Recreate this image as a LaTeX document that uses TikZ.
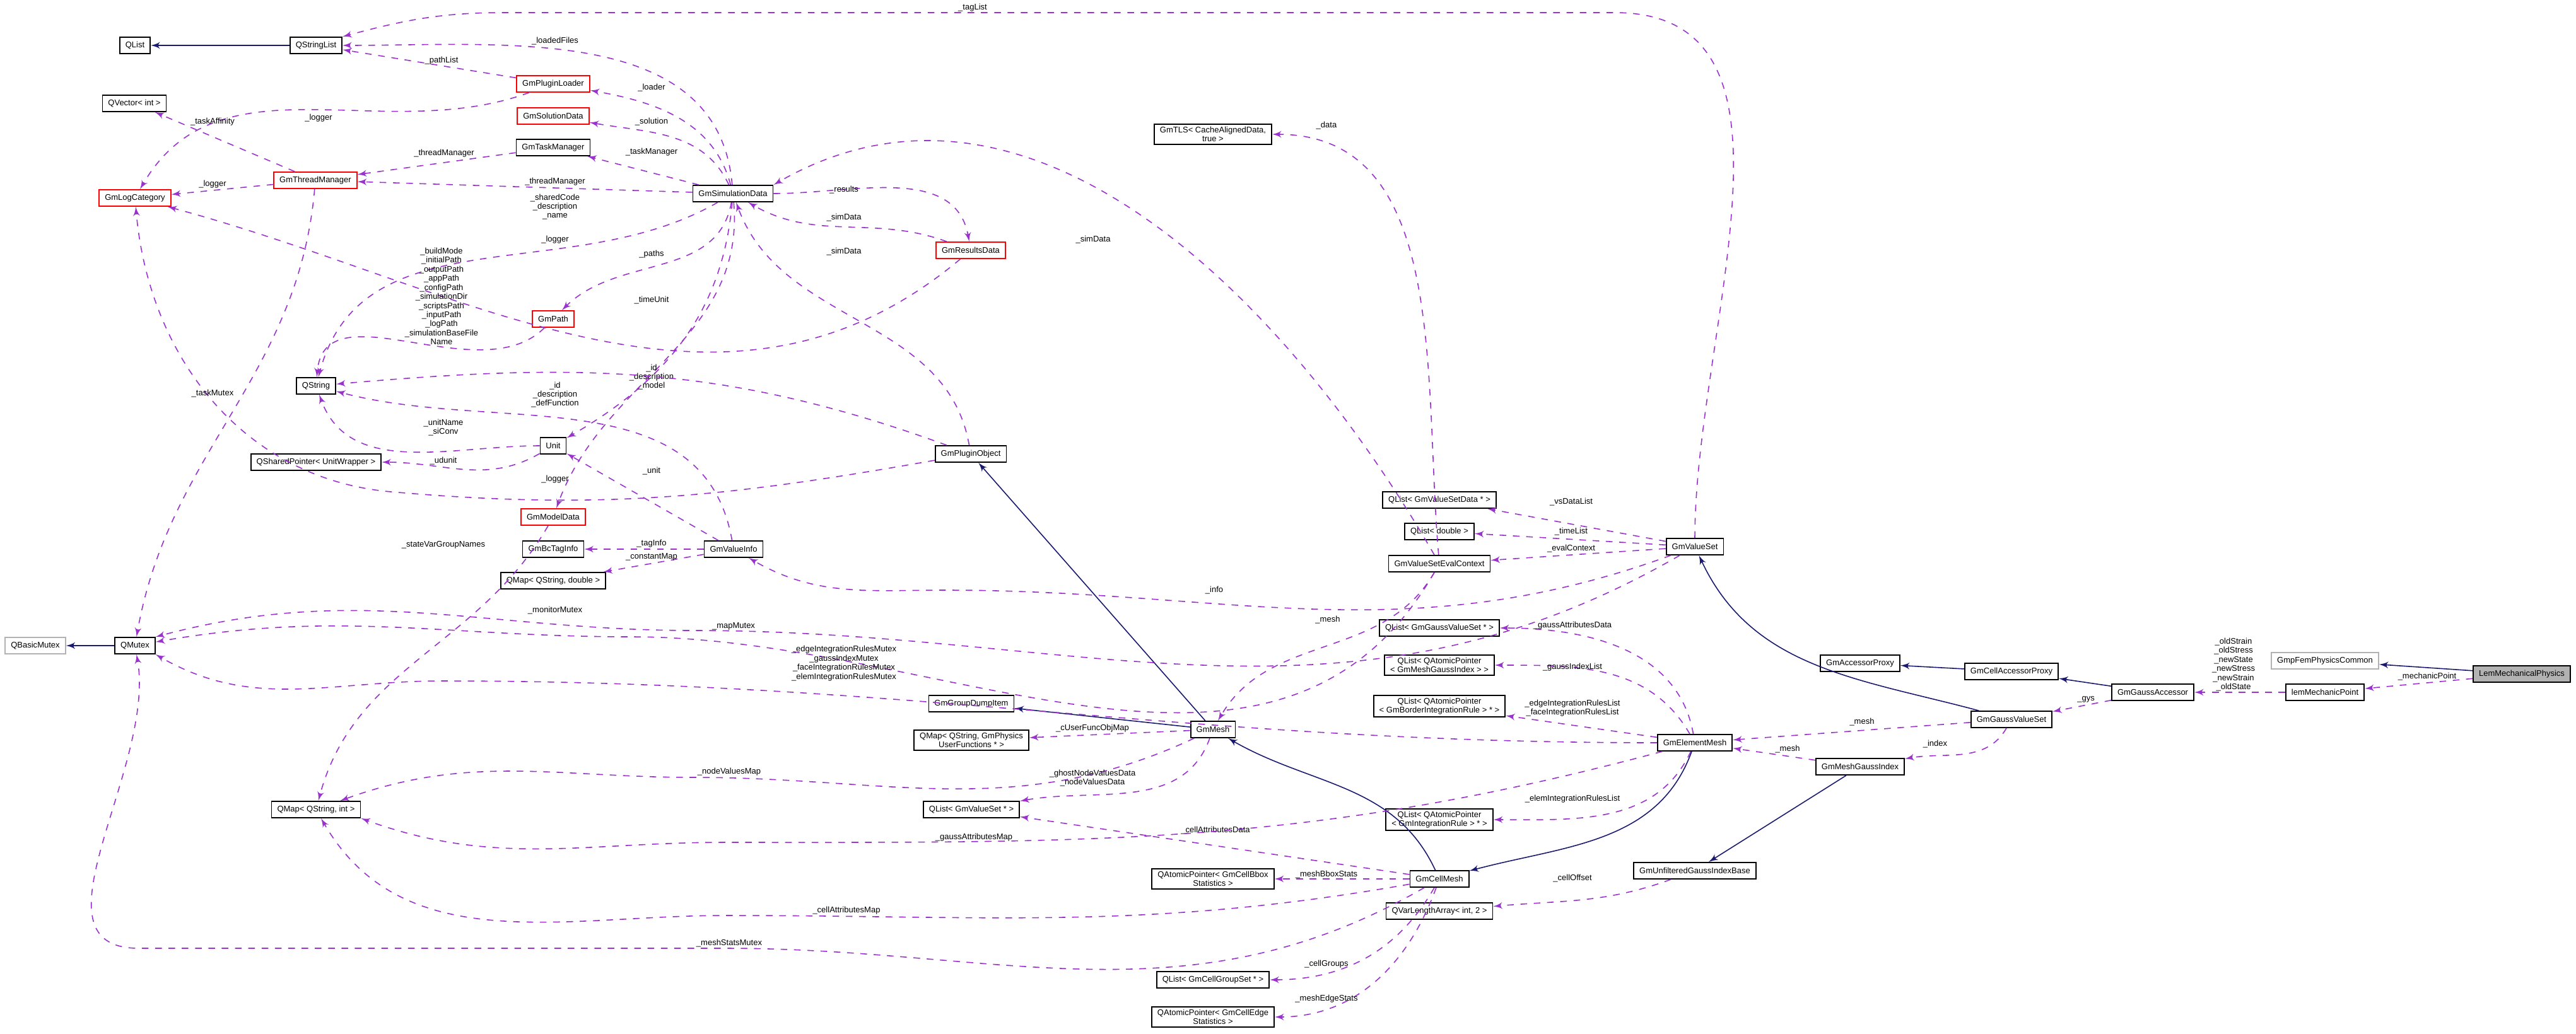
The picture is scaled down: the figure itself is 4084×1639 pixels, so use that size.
\documentclass[tikz,border=0pt]{standalone}
\usepackage{fontspec}
\setmainfont{Liberation Sans}
\usepackage{tikz}
\usetikzlibrary{arrows}
\definecolor{usecol}{HTML}{9A32CD}
\definecolor{inhcol}{HTML}{191970}
\tikzset{>=latex', font=\fontsize{3.7}{4.1}\selectfont}
\tikzstyle{cls} = [draw=black, line width=0.5pt, fill=white, rectangle, minimum height=2.6mm, inner xsep=0.9mm, inner ysep=0.4mm, align=center]
\tikzstyle{redcls} = [cls, draw=red]
\tikzstyle{graycls} = [cls, draw=black!30]
\tikzstyle{maincls} = [cls, fill=black!30]
\tikzstyle{use} = [->, usecol, dashed, line width=0.45pt]
\tikzstyle{inh} = [->, inhcol, line width=0.45pt]
\tikzstyle{lbl} = [black, inner sep=0pt, align=center]

\begin{document}
\begin{tikzpicture}[x=0.01cm, y=-0.01cm]
		\useasboundingbox (0,0) rectangle (4084,1639);

		% left part
		\node [cls] (qlist) at (214,72) {QList};
		\node [cls] (qstringlist) at (501,72) {QStringList};
		\node [redcls] (pluginloader) at (877,133) {GmPluginLoader};
		\node [cls] (qvector) at (213,164) {QVector\textless{} int \textgreater};
		\node [redcls] (solutiondata) at (877,184) {GmSolutionData};
		\node [cls] (taskmanager) at (877,234) {GmTaskManager};
		\node [redcls] (threadmanager) at (500,286) {GmThreadManager};
		\node [redcls] (logcategory) at (214,314) {GmLogCategory};
		\node [cls] (simdata) at (1162,307) {GmSimulationData};
		\node [redcls] (gmpath) at (877,506) {GmPath};
		\node [cls] (qstring) at (501,612) {QString};
		\node [cls] (unit) at (877,707) {Unit};
		\node [cls] (qsharedptr) at (501,733) {QSharedPointer\textless{} UnitWrapper \textgreater};
		\node [redcls] (modeldata) at (877,820) {GmModelData};
		\node [cls] (bctaginfo) at (877,871) {GmBcTagInfo};
		\node [cls] (valueinfo) at (1163,871) {GmValueInfo};
		\node [cls] (qmapdouble) at (877,921) {QMap\textless{} QString, double \textgreater};
		\node [graycls] (qbasicmutex) at (56,1024) {QBasicMutex};
		\node [cls] (qmutex) at (214,1024) {QMutex};
		\node [cls] (qmapint) at (501,1284) {QMap\textless{} QString, int \textgreater};

		% middle part
		\node [cls] (gmtls) at (1923,213) {GmTLS\textless{} CacheAlignedData,\\true \textgreater};
		\node [redcls] (resultsdata) at (1539,397) {GmResultsData};
		\node [cls] (pluginobject) at (1539,720) {GmPluginObject};
		\node [cls] (vsdatalist) at (2282,793) {QList\textless{} GmValueSetData * \textgreater};
		\node [cls] (qlistdouble) at (2282,843) {QList\textless{} double \textgreater};
		\node [cls] (evalcontext) at (2282,894) {GmValueSetEvalContext};
		\node [cls] (gaussvslist) at (2282,996) {QList\textless{} GmGaussValueSet * \textgreater};
		\node [cls] (meshgaussidxlist) at (2282,1055) {QList\textless{} QAtomicPointer\\\textless{} GmMeshGaussIndex \textgreater{} \textgreater};
		\node [cls] (groupdumpitem) at (1540,1116) {GmGroupDumpItem};
		\node [cls] (gmmesh) at (1923,1157) {GmMesh};
		\node [cls] (userfuncmap) at (1540,1174) {QMap\textless{} QString, GmPhysics\\UserFunctions * \textgreater};
		\node [cls] (valuesetlist) at (1540,1284) {QList\textless{} GmValueSet * \textgreater};
		\node [cls] (bboxstats) at (1923,1394) {QAtomicPointer\textless{} GmCellBbox\\Statistics \textgreater};
		\node [cls] (cellmesh) at (2282,1394) {GmCellMesh};
		\node [cls] (cellgroupset) at (1923,1554) {QList\textless{} GmCellGroupSet * \textgreater};
		\node [cls] (edgestats) at (1923,1613) {QAtomicPointer\textless{} GmCellEdge\\Statistics \textgreater};
		\node [cls] (borderrulelist) at (2282,1120) {QList\textless{} QAtomicPointer\\\textless{} GmBorderIntegrationRule \textgreater{} * \textgreater};
		\node [cls] (ruleslist) at (2282,1300) {QList\textless{} QAtomicPointer\\\textless{} GmIntegrationRule \textgreater{} * \textgreater};
		\node [cls] (varlengtharray) at (2282,1445) {QVarLengthArray\textless{} int, 2 \textgreater};

		% right part
		\node [cls] (valueset) at (2687,867) {GmValueSet};
		\node [cls] (accessorproxy) at (2949,1052) {GmAccessorProxy};
		\node [cls] (elementmesh) at (2687,1178) {GmElementMesh};
		\node [cls] (meshgaussindex) at (2949,1216) {GmMeshGaussIndex};
		\node [cls] (unfilteredbase) at (2687,1381) {GmUnfilteredGaussIndexBase};
		\node [cls] (cellaccessorproxy) at (3189,1065) {GmCellAccessorProxy};
		\node [cls] (gaussaccessor) at (3413,1098) {GmGaussAccessor};
		\node [cls] (gaussvalueset) at (3189,1141) {GmGaussValueSet};
		\node [graycls] (fempcommon) at (3686,1048) {GmpFemPhysicsCommon};
		\node [cls] (mechanicpoint) at (3686,1098) {lemMechanicPoint};
		\node [maincls] (mechanicalphysics) at (3998,1069) {LemMechanicalPhysics};

		% inheritance
		\draw [inh] (qstringlist) -- (qlist);
		\draw [inh] (qmutex) -- (qbasicmutex);
		\draw [inh] (gmmesh) -- (pluginobject);
		\draw [inh] (gmmesh) -- (groupdumpitem);
		\draw [inh] (cellmesh) to [out=115, in=-30] (gmmesh);
		\draw [inh] (elementmesh) to [out=-110, in=15] (cellmesh);
		\draw [inh] (gaussvalueset) to [out=165, in=-65] (valueset);
		\draw [inh] (cellaccessorproxy) -- (accessorproxy);
		\draw [inh] (gaussaccessor) -- (cellaccessorproxy);
		\draw [inh] (meshgaussindex) -- (unfilteredbase);
		\draw [inh] (mechanicalphysics) -- (fempcommon);

		% members
		\draw [use] (valueset) to [out=90, in=0] (2560,20) -- (800,20) to [out=180, in=15] (qstringlist.north east) node [lbl] at (1542,12) {\_tagList};
		\draw [use] (simdata) to [out=95, in=0] (qstringlist) node [lbl] at (880,65) {\_loadedFiles};
		\draw [use] (pluginloader) -- (qstringlist) node [lbl] at (700,96) {\_pathList};
		\draw [use] (pluginloader) to [out=200, in=60] (logcategory) node [lbl] at (505,187) {\_logger};
		\draw [use] (simdata) to [out=105, in=-10] (pluginloader) node [lbl] at (1033,139) {\_loader};
		\draw [use] (threadmanager) -- (qvector) node [lbl] at (337,193) {\_taskAffinity};
		\draw [use] (simdata) to [out=115, in=-10] (solutiondata) node [lbl] at (1033,193) {\_solution};
		\draw [use] (taskmanager) -- (threadmanager) node [lbl] at (704,243) {\_threadManager};
		\draw [use] (simdata) -- (taskmanager) node [lbl] at (1033,241) {\_taskManager};
		\draw [use] (threadmanager) -- (logcategory) node [lbl] at (337,292) {\_logger};
		\draw [use] (simdata) -- (threadmanager) node [lbl] at (880,288) {\_threadManager};
		\draw [use] (simdata) to [out=-150, in=75] (qstring) node [lbl] at (880,328) {\_sharedCode\\\_description\\\_name};
		\draw [use] (resultsdata) to [out=-140, in=-15] (logcategory) node [lbl] at (880,380) {\_logger};
		\draw [use] (simdata) to [out=-100, in=45] (gmpath) node [lbl] at (1033,403) {\_paths};
		\draw [use] (simdata) to [out=-95, in=30] (unit) node [lbl] at (1033,476) {\_timeUnit};
		\draw [use] (gmpath) to [out=-135, in=85] (qstring) node [lbl] at (700,470) {\_buildMode\\\_initialPath\\\_outputPath\\\_appPath\\\_configPath\\\_simulationDir\\\_scriptsPath\\\_inputPath\\\_logPath\\\_simulationBaseFile\\Name};
		\draw [use] (simdata) to [out=-85, in=70] (modeldata) node [lbl] at (1033,598) {\_id\\\_description\\\_model};
		\draw [use] (pluginobject) to [out=160, in=5] (qstring);
		\draw [use] (valueinfo) to [out=100, in=-15] (qstring) node [lbl] at (880,626) {\_id\\\_description\\\_defFunction};
		\draw [use] (unit) to [out=180, in=-70] (qstring) node [lbl] at (703,678) {\_unitName\\\_siConv};
		\draw [use] (unit) to [out=-150, in=0] (qsharedptr) node [lbl] at (703,731) {\_udunit};
		\draw [use] (valueinfo) -- (unit) node [lbl] at (1033,747) {\_unit};
		\draw [use] (pluginobject) to [out=190, in=-5] (620,780) to [out=175, in=-85] (logcategory) node [lbl] at (880,760) {\_logger};
		\draw [use] (threadmanager) to [out=-95, in=80] (qmutex) node [lbl] at (337,624) {\_taskMutex};
		\draw [use] (modeldata) to [out=-120, in=75] (qmapint) node [lbl] at (703,864) {\_stateVarGroupNames};
		\draw [use] (valueinfo) -- (bctaginfo) node [lbl] at (1033,862) {\_tagInfo};
		\draw [use] (valueinfo) -- (qmapdouble) node [lbl] at (1033,883) {\_constantMap};
		\draw [use] (evalcontext) to [out=-120, in=0] (1000,1010) to [out=180, in=10] (qmutex) node [lbl] at (880,968) {\_monitorMutex};
		\draw [use] (valueset) to [out=-150, in=0] (1100,1000) to [out=180, in=15] (qmutex.north east) node [lbl] at (1163,993) {\_mapMutex};
		\draw [use] (elementmesh) to [out=180, in=0] (700,1080) to [out=180, in=-30] (qmutex.south east) node [lbl] at (1338,1052) {\_edgeIntegrationRulesMutex\\\_gaussIndexMutex\\\_faceIntegrationRulesMutex\\\_elemIntegrationRulesMutex};
		\draw [use] (cellmesh) to [out=-150, in=0] (1150,1504) -- (220,1504) to [out=180, in=-80] (qmutex) node [lbl] at (1156,1496) {\_meshStatsMutex};

		\draw [use] (resultsdata) to [out=160, in=-30] (simdata) node [lbl] at (1338,345) {\_simData};
		\draw [use] (simdata) to [out=0, in=100] (resultsdata) node [lbl] at (1338,301) {\_results};
		\draw [use] (pluginobject) to [out=100, in=-70] (simdata) node [lbl] at (1338,399) {\_simData};
		\draw [use] (evalcontext) to [out=120, in=30] (simdata.north east) node [lbl] at (1733,380) {\_simData};
		\draw [use] (evalcontext) to [out=95, in=0] (gmtls) node [lbl] at (2103,199) {\_data};
		\draw [use] (valueset) -- (vsdatalist) node [lbl] at (2491,796) {\_vsDataList};
		\draw [use] (valueset) -- (qlistdouble) node [lbl] at (2491,843) {\_timeList};
		\draw [use] (valueset) -- (evalcontext) node [lbl] at (2491,870) {\_evalContext};
		\draw [use] (valueset) to [out=-160, in=0] (1500,936) to [out=180, in=-30] (valueinfo) node [lbl] at (1925,936) {\_info};
		\draw [use] (evalcontext) to [out=-120, in=60] (gmmesh) node [lbl] at (2105,983) {\_mesh};

		\draw [use] (elementmesh) to [out=100, in=0] (gaussvslist) node [lbl] at (2493,992) {\_gaussAttributesData};
		\draw [use] (elementmesh) to [out=120, in=0] (meshgaussidxlist) node [lbl] at (2493,1058) {\_gaussIndexList};
		\draw [use] (elementmesh) -- (borderrulelist) node [lbl] at (2493,1123) {\_edgeIntegrationRulesList\\\_faceIntegrationRulesList};
		\draw [use] (elementmesh) to [out=-115, in=0] (ruleslist) node [lbl] at (2493,1267) {\_elemIntegrationRulesList};
		\draw [use] (gaussvalueset) -- (elementmesh) node [lbl] at (2952,1145) {\_mesh};
		\draw [use] (meshgaussindex) -- (elementmesh) node [lbl] at (2834,1188) {\_mesh};
		\draw [use] (gaussvalueset) to [out=-120, in=10] (meshgaussindex) node [lbl] at (3068,1180) {\_index};
		\draw [use] (gaussaccessor) -- (gaussvalueset) node [lbl] at (3307,1109) {\_gys};
		\draw [use] (mechanicpoint) -- (gaussaccessor) node [lbl] at (3541,1054) {\_oldStrain\\\_oldStress\\\_newState\\\_newStress\\\_newStrain\\\_oldState};
		\draw [use] (mechanicalphysics) -- (mechanicpoint) node [lbl] at (3848,1073) {\_mechanicPoint};

		\draw [use] (gmmesh) -- (userfuncmap) node [lbl] at (1732,1155) {\_cUserFuncObjMap};
		\draw [use] (gmmesh) to [out=-155, in=0] (1100,1233) to [out=180, in=20] (qmapint) node [lbl] at (1156,1224) {\_nodeValuesMap};
		\draw [use] (gmmesh) to [out=-110, in=10] (valuesetlist) node [lbl] at (1732,1234) {\_ghostNodeValuesData\\\_nodeValuesData};
		\draw [use] (cellmesh) -- (valuesetlist) node [lbl] at (1927,1317) {\_cellAttributesData};
		\draw [use] (elementmesh) to [out=-165, in=0] (1150,1336) to [out=180, in=-20] (qmapint.south east) node [lbl] at (1544,1328) {\_gaussAttributesMap};
		\draw [use] (cellmesh) to [out=-170, in=0] (1150,1452) to [out=180, in=-60] (qmapint) node [lbl] at (1342,1444) {\_cellAttributesMap};
		\draw [use] (cellmesh) -- (bboxstats) node [lbl] at (2103,1387) {\_meshBboxStats};
		\draw [use] (cellmesh) to [out=-120, in=0] (cellgroupset) node [lbl] at (2103,1529) {\_cellGroups};
		\draw [use] (cellmesh) to [out=-110, in=0] (edgestats) node [lbl] at (2103,1584) {\_meshEdgeStats};
		\draw [use] (unfilteredbase) to [out=-160, in=5] (varlengtharray) node [lbl] at (2493,1393) {\_cellOffset};
\end{tikzpicture}
\end{document}
